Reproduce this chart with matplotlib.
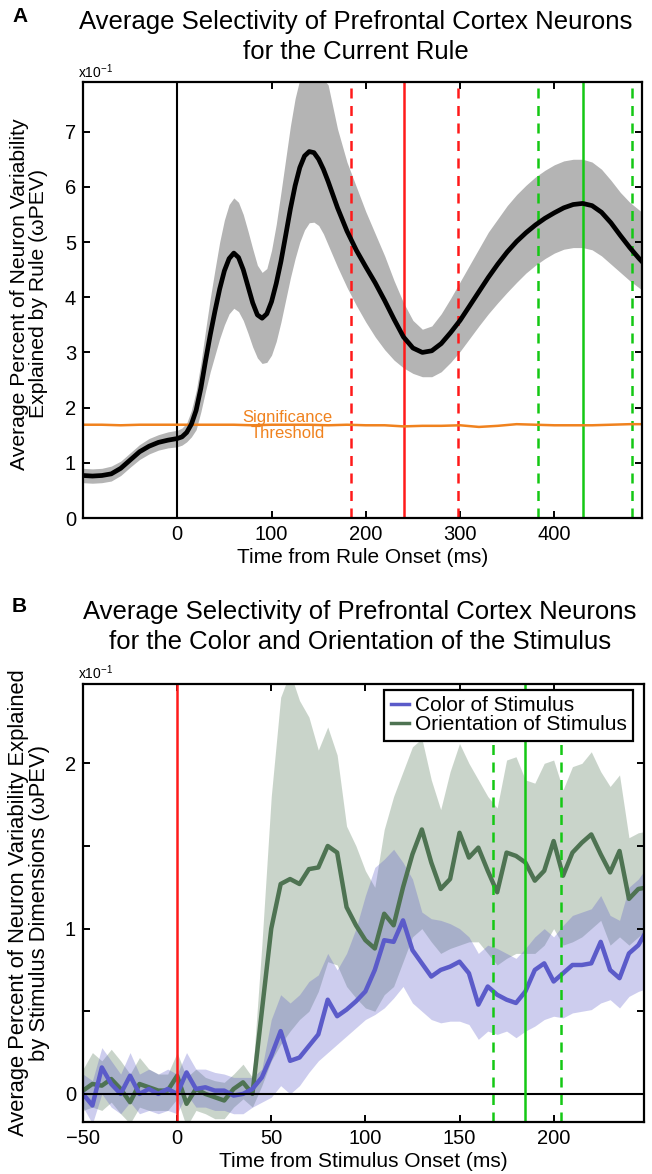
import numpy as np
import matplotlib
matplotlib.use("Agg")
import matplotlib.pyplot as plt

plt.rcParams['font.family'] = ['Liberation Sans', 'DejaVu Sans']
plt.rcParams['mathtext.default'] = 'regular'

# Panel A: rule selectivity (x10^-1 wPEV); finer bins where the curve bends fast
rule_time = np.concatenate([np.arange(-100, 1, 10), np.arange(5, 161, 5), np.arange(170, 501, 10)])
rule_mean = [0.77, 0.76, 0.77, 0.80, 0.90, 1.05, 1.20, 1.30, 1.37, 1.41, 1.44,
             1.47, 1.55, 1.70, 1.95, 2.35, 2.85, 3.32, 3.75, 4.15, 4.48,
             4.70, 4.80, 4.72, 4.50, 4.20, 3.90, 3.68, 3.62, 3.70, 3.92,
             4.25, 4.65, 5.12, 5.60, 6.02, 6.35, 6.56, 6.64, 6.62, 6.50,
             6.32, 6.10,
             5.62, 5.20, 4.85, 4.55, 4.26, 3.94, 3.60, 3.28, 3.08, 3.00,
             3.03, 3.16, 3.36, 3.58, 3.84, 4.10, 4.36, 4.60, 4.82, 5.01,
             5.17, 5.31, 5.43, 5.53, 5.62, 5.68, 5.70, 5.66, 5.54, 5.35,
             5.12, 4.90, 4.70, 4.52]
rule_upper = [0.90, 0.89, 0.90, 0.94, 1.03, 1.18, 1.33, 1.44, 1.51, 1.56, 1.59,
              1.63, 1.72, 1.95, 2.30, 2.80, 3.40, 3.98, 4.50, 5.00, 5.40,
              5.68, 5.80, 5.72, 5.50, 5.20, 4.88, 4.58, 4.45, 4.52, 4.85,
              5.32, 5.90, 6.50, 7.10, 7.60, 7.95, 8.12, 8.18, 8.15, 8.05,
              7.95, 7.85,
              7.05, 6.45, 6.00, 5.55, 5.15, 4.75, 4.30, 3.90, 3.58, 3.42,
              3.48, 3.70, 3.98, 4.28, 4.58, 4.88, 5.18, 5.42, 5.66, 5.86,
              6.03, 6.18, 6.30, 6.40, 6.47, 6.50, 6.50, 6.45, 6.32, 6.12,
              5.90, 5.72, 5.58, 5.45]
rule_lower = [0.64, 0.63, 0.64, 0.67, 0.77, 0.92, 1.06, 1.16, 1.23, 1.27, 1.29,
              1.32, 1.38, 1.47, 1.60, 1.92, 2.30, 2.65, 2.95, 3.25, 3.50,
              3.70, 3.80, 3.74, 3.58, 3.35, 3.10, 2.90, 2.80, 2.82, 2.95,
              3.20, 3.55, 3.95, 4.35, 4.70, 5.00, 5.22, 5.35, 5.36, 5.30,
              5.15, 4.95,
              4.55, 4.18, 3.85, 3.55, 3.28, 3.05, 2.86, 2.72, 2.62, 2.56,
              2.56, 2.65, 2.82, 3.02, 3.25, 3.48, 3.70, 3.90, 4.09, 4.27,
              4.44, 4.58, 4.70, 4.80, 4.87, 4.90, 4.90, 4.86, 4.75, 4.60,
              4.45, 4.30, 4.17, 4.05]

thresh_time = np.arange(-100, 501, 20)
thresh_val = [1.69, 1.69, 1.68, 1.69, 1.69, 1.69, 1.69, 1.69, 1.69, 1.68,
              1.69, 1.69, 1.69, 1.68, 1.69, 1.68, 1.68, 1.66, 1.67, 1.67,
              1.68, 1.65, 1.67, 1.70, 1.69, 1.68, 1.68, 1.68, 1.69, 1.70, 1.70]

rule_red_dash = [184, 298]
rule_red = 240
rule_green_dash = [383, 482]
rule_green = 430

# Panel B: stimulus selectivity, 5 ms bins
stim_time = np.arange(-50, 251, 5)
color_mean = [0.00, -0.07, 0.16, 0.06, 0.00, 0.11, 0.00, 0.03, 0.00, 0.03,
              0.00, 0.13, 0.03, 0.04, 0.02, 0.02, -0.01, 0.00, 0.03, 0.10,
              0.23, 0.38, 0.20, 0.22, 0.29, 0.36, 0.57, 0.47, 0.51, 0.56,
              0.62, 0.75, 0.93, 0.92, 1.05, 0.87, 0.79, 0.71, 0.75, 0.77,
              0.80, 0.73, 0.54, 0.65, 0.60, 0.57, 0.55, 0.62, 0.75, 0.79,
              0.68, 0.73, 0.78, 0.78, 0.79, 0.92, 0.75, 0.70, 0.85, 0.90, 1.00]
color_upper = [0.12, 0.08, 0.28, 0.20, 0.12, 0.25, 0.12, 0.15, 0.12, 0.15,
               0.12, 0.25, 0.15, 0.15, 0.13, 0.12, 0.10, 0.10, 0.10, 0.15,
               0.45, 0.60, 0.55, 0.60, 0.68, 0.72, 0.85, 0.75, 0.85, 1.00,
               1.20, 1.37, 1.42, 1.48, 1.40, 1.30, 1.10, 1.06, 1.05, 1.03,
               1.00, 0.95, 0.85, 0.90, 0.88, 0.85, 0.82, 0.88, 0.95, 1.00,
               0.95, 1.02, 1.08, 1.10, 1.12, 1.20, 1.08, 1.05, 1.25, 1.30, 1.38]
color_lower = [-0.08, -0.18, 0.00, -0.08, -0.12, -0.05, -0.12, -0.10, -0.12, -0.10,
               -0.12, 0.00, -0.08, -0.08, -0.10, -0.10, -0.12, -0.12, -0.08, -0.05,
               -0.02, 0.05, 0.00, 0.05, 0.13, 0.20, 0.25, 0.30, 0.35, 0.40,
               0.45, 0.48, 0.52, 0.58, 0.65, 0.55, 0.50, 0.45, 0.43, 0.44,
               0.44, 0.42, 0.33, 0.38, 0.36, 0.38, 0.34, 0.38, 0.41, 0.45,
               0.47, 0.46, 0.49, 0.50, 0.51, 0.55, 0.57, 0.52, 0.59, 0.62, 0.64]
orient_mean = [0.02, 0.06, 0.05, 0.09, 0.03, -0.05, 0.06, 0.04, 0.02, 0.02,
               0.11, -0.06, 0.03, 0.00, -0.02, -0.04, 0.03, 0.07, 0.00, 0.50,
               1.00, 1.27, 1.30, 1.27, 1.36, 1.37, 1.50, 1.46, 1.13, 1.02,
               0.93, 0.88, 1.09, 1.02, 1.25, 1.45, 1.60, 1.40, 1.24, 1.30,
               1.58, 1.43, 1.49, 1.35, 1.22, 1.46, 1.44, 1.40, 1.29, 1.35,
               1.53, 1.32, 1.46, 1.52, 1.57, 1.45, 1.34, 1.47, 1.18, 1.24, 1.25]
orient_upper = [0.15, 0.25, 0.20, 0.27, 0.20, 0.12, 0.22, 0.15, 0.12, 0.12,
                0.25, 0.10, 0.15, 0.10, 0.08, 0.07, 0.12, 0.18, 0.10, 0.90,
                1.80, 2.40, 2.55, 2.38, 2.28, 2.08, 2.22, 2.05, 1.62, 1.50,
                1.35, 1.25, 1.60, 1.80, 1.95, 2.10, 2.15, 1.90, 1.72, 1.95,
                2.12, 2.00, 1.90, 1.80, 1.73, 2.02, 2.04, 1.90, 1.88, 2.00,
                2.02, 1.84, 1.98, 2.00, 2.07, 1.95, 1.86, 1.93, 1.55, 1.58, 1.59]
orient_lower = [-0.10, -0.08, -0.10, -0.05, -0.12, -0.18, -0.08, -0.10, -0.10, -0.10,
                -0.03, -0.20, -0.10, -0.12, -0.15, -0.15, -0.08, -0.03, -0.08, 0.05,
                0.20, 0.30, 0.38, 0.45, 0.50, 0.62, 0.80, 0.78, 0.65, 0.58,
                0.52, 0.50, 0.60, 0.65, 0.80, 0.95, 1.00, 0.92, 0.85, 0.88,
                0.90, 0.92, 0.92, 0.85, 0.78, 0.82, 0.85, 0.85, 0.85, 0.90,
                1.00, 0.90, 0.92, 0.95, 1.00, 1.05, 0.90, 0.95, 0.90, 0.95, 1.00]

stim_green_dash = [168, 204]
stim_green = 185

blue = '#5b5bc9'
dkgreen = '#4e7352'
red = '#ff1a1a'
green = '#14c814'
orange = '#f0821e'


def matlab_axes(ax):
    for s in ax.spines.values():
        s.set_linewidth(1.6)
    ax.tick_params(direction='in', top=True, right=True, length=5, width=1.4,
                   labelsize=14.5, pad=5)


fig = plt.figure(figsize=(6.52, 11.74), dpi=100)
W, H = 652.0, 1174.0

# ---- A ----
axA = fig.add_axes([83 / W, 1 - 518 / H, (642 - 83) / W, (518 - 82) / H])
axA.fill_between(rule_time, rule_lower, rule_upper, color='#b4b4b4', lw=0)
axA.axvline(0, color='black', lw=1.5)
for x in rule_red_dash:
    axA.axvline(x, color=red, lw=1.8, ls=(0, (4, 3)))
axA.axvline(rule_red, color=red, lw=1.8)
for x in rule_green_dash:
    axA.axvline(x, color=green, lw=1.8, ls=(0, (4, 3)))
axA.axvline(rule_green, color=green, lw=1.8)
axA.plot(thresh_time, thresh_val, color=orange, lw=1.8)
axA.plot(rule_time, rule_mean, color='black', lw=3.4,
         solid_capstyle='round', solid_joinstyle='round')
axA.text(117, 1.68, 'Significance\nThreshold', color=orange, fontsize=12,
         ha='center', va='center', linespacing=1.05)
axA.set_xlim(-100, 493)
axA.set_ylim(0, 7.9)
axA.set_xticks([0, 100, 200, 300, 400])
axA.set_yticks(range(8))
matlab_axes(axA)
axA.set_xlabel('Time from Rule Onset (ms)', fontsize=15, labelpad=3)

fig.text(12 / W, 1 - 16 / H, 'A', fontsize=15, fontweight='bold', va='center')
fig.text(356 / W, 1 - 37 / H,
         'Average Selectivity of Prefrontal Cortex Neurons\nfor the Current Rule',
         fontsize=18.5, ha='center', va='center', linespacing=1.35)
fig.text(78 / W, 1 - 72 / H, 'x10$^{-1}$', fontsize=10, va='center')
fig.text(29 / W, 1 - 294 / H,
         'Average Percent of Neuron Variability\nExplained by Rule (\u03c9PEV)',
         fontsize=15.2, rotation=90, ha='center', va='center', linespacing=1.05)

# ---- B ----
axB = fig.add_axes([83 / W, 1 - 1122 / H, (644 - 83) / W, (1122 - 684) / H])
axB.fill_between(stim_time, orient_lower, orient_upper, color=dkgreen, alpha=0.3, lw=0)
axB.plot(stim_time, orient_mean, color=dkgreen, lw=3.2, label='Orientation of Stimulus')
axB.fill_between(stim_time, color_lower, color_upper, color=blue, alpha=0.3, lw=0)
axB.plot(stim_time, color_mean, color=blue, lw=3.2, label='Color of Stimulus')
axB.axhline(0, color='black', lw=1.5)
axB.axvline(0, color=red, lw=1.8)
for x in stim_green_dash:
    axB.axvline(x, color=green, lw=1.8, ls=(0, (4, 3)))
axB.axvline(stim_green, color=green, lw=1.8)
axB.set_xlim(-50, 248)
axB.set_ylim(-0.17, 2.48)
axB.set_xticks([-50, 0, 50, 100, 150, 200])
axB.set_yticks([0, 0.5, 1, 1.5, 2])
axB.set_yticklabels(['0', '', '1', '', '2'])
matlab_axes(axB)
axB.set_xlabel('Time from Stimulus Onset (ms)', fontsize=15, labelpad=3)

h, l = axB.get_legend_handles_labels()
leg = axB.legend(h[::-1], l[::-1], loc='upper right', bbox_to_anchor=(0.98, 0.986),
                 borderaxespad=0, fontsize=15, frameon=True, fancybox=False,
                 framealpha=1, edgecolor='black', handlelength=0.9,
                 handletextpad=0.25, labelspacing=0.0, borderpad=0.3)
leg.get_frame().set_linewidth(1.6)
for ln in leg.get_lines():
    ln.set_linewidth(2.5)

fig.text(12 / W, 1 - 607 / H, 'B', fontsize=15, fontweight='bold', va='center')
fig.text(360 / W, 1 - 627 / H,
         'Average Selectivity of Prefrontal Cortex Neurons\nfor the Color and Orientation of the Stimulus',
         fontsize=18.5, ha='center', va='center', linespacing=1.35)
fig.text(78 / W, 1 - 673 / H, 'x10$^{-1}$', fontsize=10, va='center')
fig.text(29 / W, 1 - 903 / H,
         'Average Percent of Neuron Variability Explained\nby Stimulus Dimensions (\u03c9PEV)',
         fontsize=15.8, rotation=90, ha='center', va='center', linespacing=1.05)

fig.savefig('out.png', dpi=100)
